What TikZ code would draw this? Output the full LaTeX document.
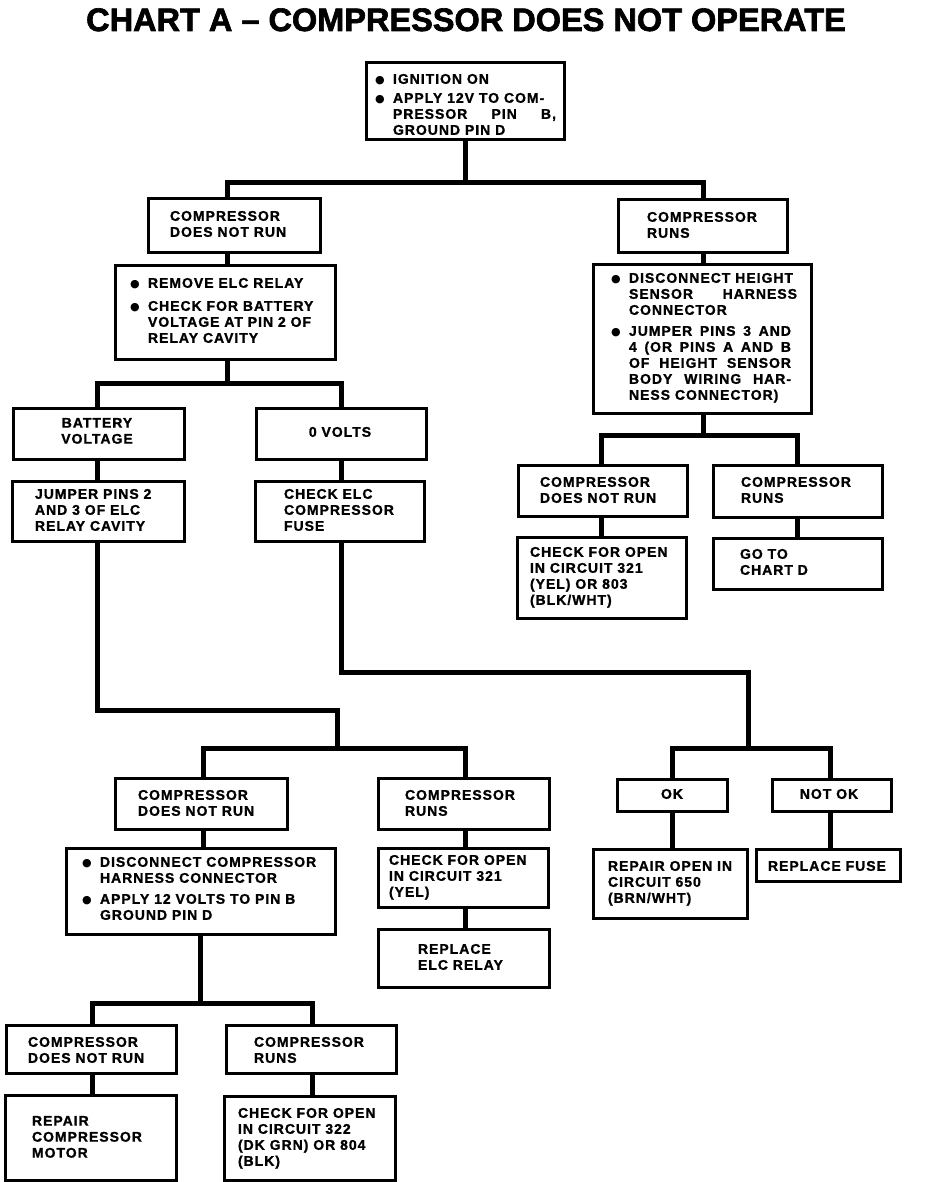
\documentclass[tikz,border=0pt]{standalone}
\usepackage{fontspec}
\newfontfamily\bxf[LetterSpace=7,FakeBold=1.2]{Liberation Sans}
\newfontfamily\ttlf[FakeBold=2]{Liberation Sans}
\newfontfamily\dejavu{DejaVu Sans}
\newcommand{\bul}{\makebox[18pt][l]{\raisebox{0.6pt}[0pt][0pt]{\dejavu\fontsize{11}{11}\selectfont ●}}}
\newcommand{\ind}{\hspace*{18pt}}
\newcommand{\jl}[2]{\makebox[#1][s]{#2}}
\newcommand{\bx}[5]{\node[box, anchor=north west, minimum width=#4pt-#2pt, minimum height=#5pt-#3pt] (#1) at (#2,#3) {};}
\tikzset{
  box/.style={draw, line width=3pt, inner sep=0pt, outer sep=0pt},
  conn/.style={line width=5pt, line join=miter, line cap=butt},
  txt/.style={inner sep=0pt, outer sep=0pt, align=left, anchor=north west,
    font=\bxf\bfseries\fontsize{14}{16}\selectfont}
}
\begin{document}
\begin{tikzpicture}[x=1pt,y=-1pt]
\useasboundingbox (0,0) rectangle (928,1182);
\fill[white] (0,0) rectangle (928,1182);

\node[font=\ttlf\bfseries\fontsize{32.5}{36}\selectfont, anchor=base, inner sep=0pt] (title) at (466,31) {CHART A – COMPRESSOR DOES NOT OPERATE};

% boxes
\bx{top}{366}{63}{564}{140}
\bx{dnr1}{148}{199}{320}{252}
\bx{runs1}{618}{200}{787}{252}
\bx{relay}{115}{265}{335}{359}
\bx{height}{593}{264}{811}{413}
\bx{batt}{13}{408}{184}{459}
\bx{zero}{256}{408}{426}{459}
\bx{jumper}{12}{481}{184}{541}
\bx{fuse}{255}{481}{424}{541}
\bx{dnr2}{518}{465}{687}{516}
\bx{runs2}{713}{465}{882}{517}
\bx{openA}{517}{537}{686}{618}
\bx{chartd}{713}{538}{882}{589}
\bx{dnr3}{115}{778}{287}{829}
\bx{runs3}{378}{778}{549}{829}
\bx{discomp}{66}{848}{335}{934}
\bx{openB}{378}{848}{548}{907}
\bx{relayrep}{378}{929}{549}{987}
\bx{ok}{617}{779}{727}{811}
\bx{notok}{772}{779}{891}{811}
\bx{repair}{593}{849}{747}{918}
\bx{repfuse}{756}{849}{900}{881}
\bx{dnr4}{6}{1025}{176}{1073}
\bx{runs4}{226}{1025}{396}{1073}
\bx{motor}{5}{1095}{176}{1180}
\bx{openC}{224}{1096}{395}{1180}

% texts
\node[txt] (t-top) at (375,74) {\bul IGNITION ON\\[3pt]\bul APPLY 12V TO COM-\\\ind\jl{163pt}{PRESSOR PIN B,}\\\ind GROUND PIN D};
\node[txt] (t-dnr1) at (170,211) {COMPRESSOR\\DOES NOT RUN};
\node[txt] (t-runs1) at (647,212) {COMPRESSOR\\RUNS};
\node[txt] (t-relay) at (130,278) {\bul REMOVE ELC RELAY\\[7pt]\bul CHECK FOR BATTERY\\\ind VOLTAGE AT PIN 2 OF\\\ind RELAY CAVITY};
\node[txt] (t-height) at (611,273) {\bul DISCONNECT HEIGHT\\\ind\jl{168pt}{SENSOR HARNESS}\\\ind CONNECTOR\\[5pt]\bul\jl{162pt}{JUMPER PINS 3 AND}\\\ind\jl{162pt}{4 (OR PINS A AND B}\\\ind\jl{162pt}{OF HEIGHT SENSOR}\\\ind\jl{162pt}{BODY WIRING HAR-}\\\ind NESS CONNECTOR)};
\node[txt, align=center, anchor=north] (t-batt) at (97,418) {BATTERY\\VOLTAGE};
\node[txt, anchor=north] (t-zero) at (340,427) {0 VOLTS};
\node[txt] (t-jumper) at (35,489) {JUMPER PINS 2\\AND 3 OF ELC\\RELAY CAVITY};
\node[txt] (t-fuse) at (284,489) {CHECK ELC\\COMPRESSOR\\FUSE};
\node[txt] (t-dnr2) at (540,477) {COMPRESSOR\\DOES NOT RUN};
\node[txt] (t-runs2) at (741,477) {COMPRESSOR\\RUNS};
\node[txt] (t-openA) at (530,547) {CHECK FOR OPEN\\IN CIRCUIT 321\\(YEL) OR 803\\(BLK/WHT)};
\node[txt] (t-chartd) at (740,549) {GO TO\\CHART D};
\node[txt] (t-dnr3) at (138,790) {COMPRESSOR\\DOES NOT RUN};
\node[txt] (t-runs3) at (405,790) {COMPRESSOR\\RUNS};
\node[txt] (t-discomp) at (82,857) {\bul DISCONNECT COMPRESSOR\\\ind HARNESS CONNECTOR\\[5pt]\bul APPLY 12 VOLTS TO PIN B\\\ind GROUND PIN D};
\node[txt] (t-openB) at (389,855) {CHECK FOR OPEN\\IN CIRCUIT 321\\(YEL)};
\node[txt] (t-relayrep) at (418,944) {REPLACE\\ELC RELAY};
\node[txt, anchor=north] (t-ok) at (672,789) {OK};
\node[txt, anchor=north] (t-notok) at (829,789) {NOT OK};
\node[txt] (t-repair) at (608,861) {REPAIR OPEN IN\\CIRCUIT 650\\(BRN/WHT)};
\node[txt] (t-repfuse) at (768,861) {REPLACE FUSE};
\node[txt] (t-dnr4) at (28,1037) {COMPRESSOR\\DOES NOT RUN};
\node[txt] (t-runs4) at (254,1037) {COMPRESSOR\\RUNS};
\node[txt] (t-motor) at (32,1116) {REPAIR\\COMPRESSOR\\MOTOR};
\node[txt] (t-openC) at (238,1108) {CHECK FOR OPEN\\IN CIRCUIT 322\\(DK GRN) OR 804\\(BLK)};

% junction coordinates
\coordinate (a1) at (227,183); \coordinate (a2) at (703,183);
\coordinate (c1) at (97,383);  \coordinate (c2) at (341,383);
\coordinate (d1) at (601,435); \coordinate (d2) at (797,435);
\coordinate (e1) at (97,710);  \coordinate (e2) at (337,710);
\coordinate (f1) at (203,748); \coordinate (f2) at (465,748);
\coordinate (g1) at (341,672); \coordinate (g2) at (748,672);
\coordinate (h1) at (672,748); \coordinate (h2) at (830,748);
\coordinate (k0) at (200,1003);
\coordinate (k1) at (92,1003); \coordinate (k2) at (312,1003);

% connectors
\draw[conn] (top.south) -- (top.south |- a1);
\draw[conn] (a1 |- dnr1.north) -- (a1) -- (a2) -- (a2 |- runs1.north);
\draw[conn] (a1 |- dnr1.south) -- (a1 |- relay.north);
\draw[conn] (a2 |- runs1.south) -- (a2 |- height.north);

\draw[conn] (a1 |- relay.south) -- (a1 |- c1);
\draw[conn] (c1 |- batt.north) -- (c1) -- (c2) -- (c2 |- zero.north);
\draw[conn] (c1 |- batt.south) -- (c1 |- jumper.north);
\draw[conn] (c2 |- zero.south) -- (c2 |- fuse.north);

\draw[conn] (a2 |- height.south) -- (a2 |- d1);
\draw[conn] (d1 |- dnr2.north) -- (d1) -- (d2) -- (d2 |- runs2.north);
\draw[conn] (d1 |- dnr2.south) -- (d1 |- openA.north);
\draw[conn] (d2 |- runs2.south) -- (d2 |- chartd.north);

\draw[conn] (c1 |- jumper.south) -- (e1) -- (e2) -- (e2 |- f1);
\draw[conn] (f1 |- dnr3.north) -- (f1) -- (f2) -- (f2 |- runs3.north);
\draw[conn] (f1 |- dnr3.south) -- (f1 |- discomp.north);
\draw[conn] (f2 |- runs3.south) -- (f2 |- openB.north);
\draw[conn] (f2 |- openB.south) -- (f2 |- relayrep.north);

\draw[conn] (c2 |- fuse.south) -- (g1) -- (g2) -- (g2 |- h1);
\draw[conn] (h1 |- ok.north) -- (h1) -- (h2) -- (h2 |- notok.north);
\draw[conn] (h1 |- ok.south) -- (h1 |- repair.north);
\draw[conn] (h2 |- notok.south) -- (h2 |- repfuse.north);

\draw[conn] (k0 |- discomp.south) -- (k0);
\draw[conn] (k1 |- dnr4.north) -- (k1) -- (k2) -- (k2 |- runs4.north);
\draw[conn] (k1 |- dnr4.south) -- (k1 |- motor.north);
\draw[conn] (k2 |- runs4.south) -- (k2 |- openC.north);
\end{tikzpicture}
\end{document}
